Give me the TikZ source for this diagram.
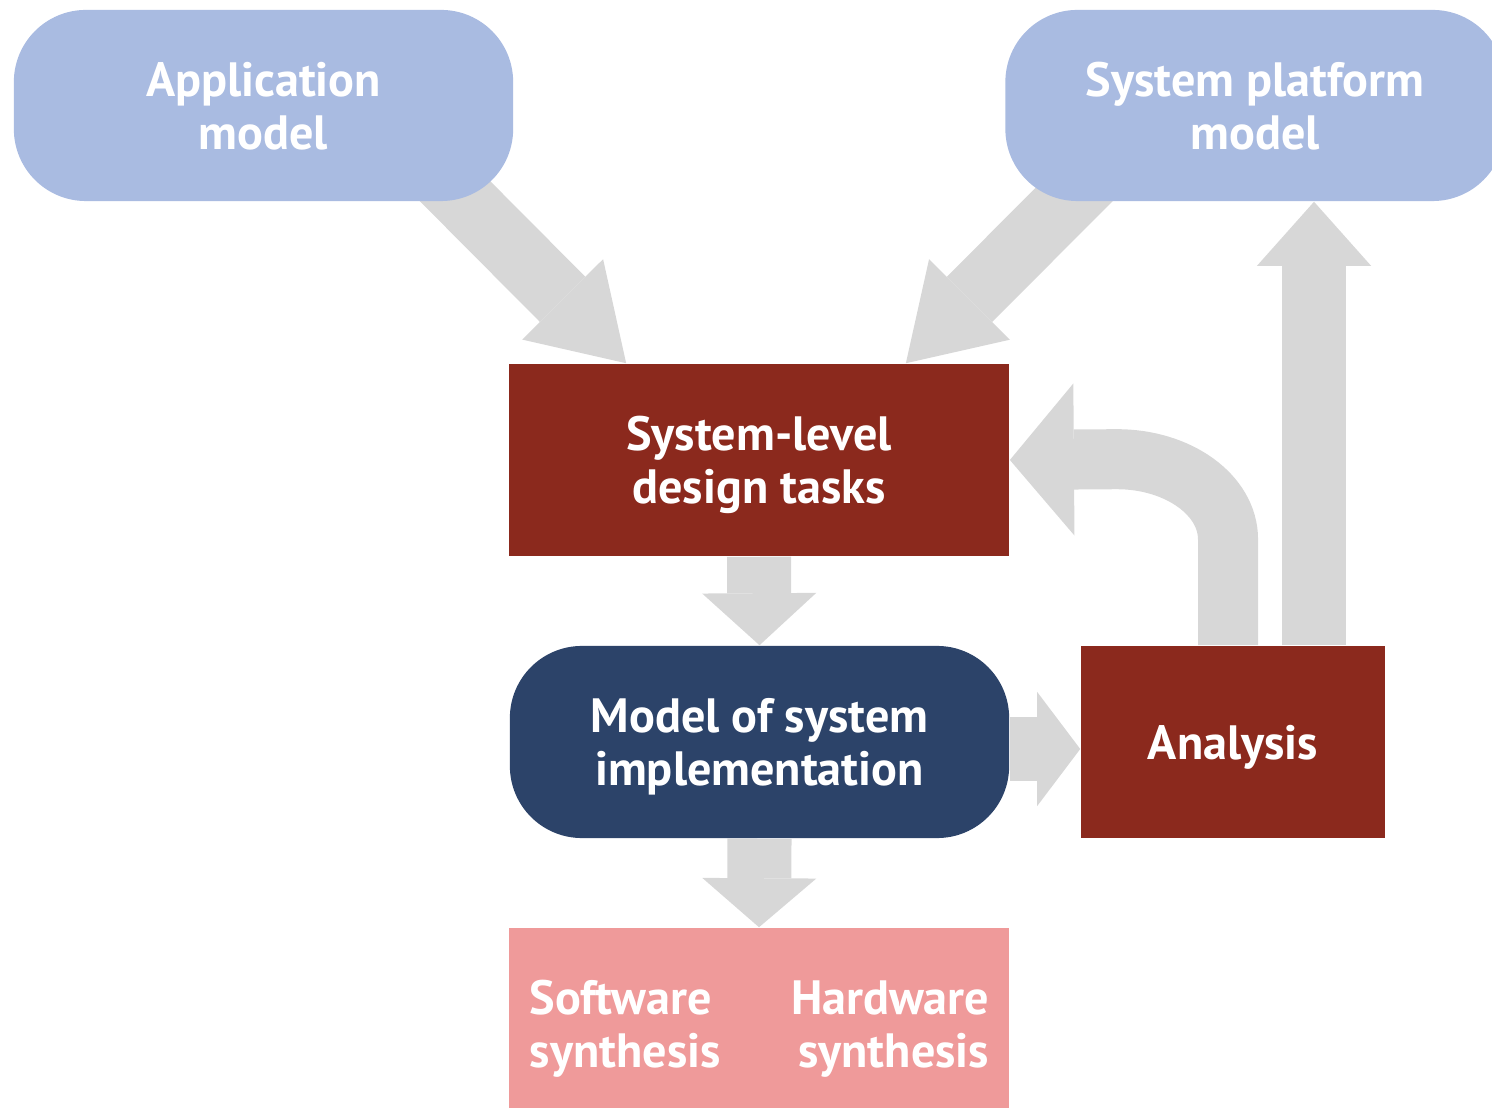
\documentclass[tikz,border=0pt]{standalone}
\usepackage{fontspec}
\setmainfont{PT Sans}
\usetikzlibrary{arrows.meta,calc,backgrounds}

\definecolor{modelblue}{RGB}{169,187,225}
\definecolor{taskred}{RGB}{139,41,29}
\definecolor{implnavy}{RGB}{44,67,105}
\definecolor{synthpink}{RGB}{239,154,154}
\definecolor{flowgray}{RGB}{215,215,215}

\begin{document}
\begin{tikzpicture}[x=0.01cm, y=0.01cm,
  every node/.style={text=white, align=center, inner sep=0pt, text depth=0pt,
    font=\fontsize{13.7}{15.1}\selectfont\bfseries},
  modelbox/.style={fill=modelblue, rounded corners=0.72cm, minimum width=4.99cm, minimum height=1.91cm},
  taskbox/.style={fill=taskred, minimum height=1.92cm},
  implbox/.style={fill=implnavy, rounded corners=0.72cm, minimum width=4.99cm, minimum height=1.92cm},
  synthbox/.style={fill=synthpink, minimum width=5cm, minimum height=1.8cm},
  flow/.style={draw=flowgray, line width=0.64cm, -{Triangle[length=#1, width=1.14cm, line width=0pt]}},
  flow/.default=0.5cm]
  \useasboundingbox (0,0) rectangle (1492,1109);
  \clip (0,0) rectangle (1492,1109);

  % boxes
  \node[modelbox] (app) at (263.5,1003.5) {Application\\model};
  \node[modelbox] (platform) at (1255,1003.5) {System platform\\model};
  \node[taskbox, minimum width=5cm] (tasks) at (759,649) {System-level\\design tasks};
  \node[implbox] (impl) at (759.5,367) {Model of system\\implementation};
  \node[taskbox, minimum width=3.04cm] (analysis) at (1233,367) {Analysis};
  \node[synthbox] (synth) at (759,91) {};
  \node[anchor=west, align=left] (sw) at ($(synth.west)+(21,-6)$) {Software\\synthesis};
  \node[anchor=east, align=right] (hw) at ($(synth.east)+(-20,-6)$) {Hardware\\synthesis};

  % arrows
  \coordinate (appout) at ($(app.south east)+(-106,58)$);
  \coordinate (platout) at ($(platform.south west)+(120,58)$);
  \coordinate (tasksinl) at ($(tasks.north west)+(118,0)$);
  \coordinate (tasksinr) at ($(tasks.north east)+(-104,0)$);
  \begin{scope}[on background layer]
    \draw[flow=0.9cm] (appout) -- (tasksinl);
    \draw[flow=0.9cm] (platout) -- (tasksinr);
    \draw[flow=0.52cm] (tasks.south) -- (impl.north);
    \draw[flow=0.49cm] (impl.south) -- (synth.north);
    \draw[flow=0.43cm] ($(impl.east)+(0,-7)$) -- ($(analysis.west)+(0,-7)$);
    \draw[flow=0.64cm] ($(analysis.north)+(81,0)$) -- ($(platform.south)+(59,0)$);
    \draw[flow=0.64cm, line width=0.6cm, -{Triangle[length=0.64cm, width=1.52cm, line width=0pt]}]
      ($(analysis.north)+(-5,0)$) -- ++(0,106)
      arc[start angle=0, end angle=90, x radius=1.11cm, y radius=0.8cm] -- (tasks.east);
  \end{scope}
\end{tikzpicture}
\end{document}
